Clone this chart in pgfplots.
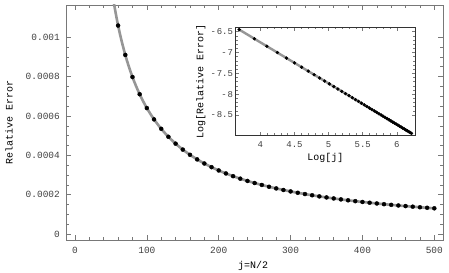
\documentclass[border=0pt]{standalone}
\usepackage{pgfplots}
\usepackage{pgfplotstable}
\pgfplotsset{compat=1.18}
\usepackage{fontspec}
\setmainfont{Liberation Mono}
\definecolor{framegray}{RGB}{120,120,120}
\definecolor{curvegray}{RGB}{150,150,150}
\pgfplotstableread{
j err logj logerr
40 0.0015805 3.68888 -6.45000
50 0.0012684 3.91202 -6.67001
60 0.0010596 4.09434 -6.84978
70 0.00091026 4.24850 -7.00178
80 0.00079797 4.38203 -7.13344
90 0.00071049 4.49981 -7.24957
100 0.00064040 4.60517 -7.35346
110 0.00058293 4.70048 -7.44743
120 0.00053501 4.78749 -7.53323
130 0.00049441 4.86753 -7.61214
140 0.00045957 4.94164 -7.68522
150 0.00042935 5.01064 -7.75325
160 0.00040286 5.07517 -7.81688
170 0.00037949 5.13580 -7.87666
180 0.00035870 5.19296 -7.93302
190 0.00034008 5.24702 -7.98632
200 0.00032331 5.29832 -8.03690
210 0.00030812 5.34711 -8.08501
220 0.00029431 5.39363 -8.13088
230 0.00028169 5.43808 -8.17471
240 0.00027011 5.48064 -8.21667
250 0.00025946 5.52146 -8.25692
260 0.00024961 5.56068 -8.29559
270 0.00024049 5.59842 -8.33280
280 0.00023203 5.63479 -8.36866
290 0.00022413 5.66988 -8.40326
300 0.00021677 5.70378 -8.43669
310 0.00020987 5.73657 -8.46902
320 0.00020341 5.76832 -8.50032
330 0.00019733 5.79909 -8.53066
340 0.00019160 5.82895 -8.56010
350 0.00018620 5.85793 -8.58868
360 0.00018110 5.88610 -8.61645
370 0.00017628 5.91350 -8.64347
380 0.00017170 5.94017 -8.66977
390 0.00016736 5.96615 -8.69538
400 0.00016323 5.99146 -8.72034
410 0.00015931 6.01616 -8.74469
420 0.00015557 6.04025 -8.76845
430 0.00015200 6.06379 -8.79166
440 0.00014859 6.08677 -8.81432
450 0.00014534 6.10925 -8.83648
460 0.00014222 6.13123 -8.85815
470 0.00013924 6.15273 -8.87935
480 0.00013637 6.17379 -8.90012
490 0.00013363 6.19441 -8.92045
500 0.00013099 6.21461 -8.94037
}\datatable
\begin{document}
\begin{tikzpicture}
\useasboundingbox (0,0) rectangle (449bp,273bp);
\begin{axis}[
  scale only axis,
  width=377.3bp, height=235bp,
  at={(66bp,33bp)}, anchor=south west,
  xmin=-12.5, xmax=512.5,
  ymin=-0.00003, ymax=0.001164,
  xtick={0,100,200,300,400,500},
  xticklabels={0,100,200,300,400,500},
  ytick={0,0.0002,0.0004,0.0006,0.0008,0.001},
  yticklabels={0,0.0002,0.0004,0.0006,0.0008,0.001},
  minor x tick num=4,
  minor y tick num=3,
  scaled y ticks=false,
  tick align=inside,
  major tick length=5bp,
  minor tick length=3bp,
  axis line style={framegray, line width=0.8bp},
  every tick/.style={framegray, line width=0.6bp},
  tick label style={font=\fontsize{9.5}{11}\selectfont, text=black!75},
  yticklabel style={anchor=east, inner sep=0pt, xshift=-6bp},
  xticklabel style={anchor=north, inner sep=0pt, yshift=-6.5bp},
  xlabel={j=N/2},
  ylabel={Relative Error},
  label style={font=\fontsize{11}{12}\selectfont, text=black!80},
  every axis x label/.style={at={(axis description cs:0.496,-0.111)}, anchor=center},
  every axis y label/.style={at={(axis description cs:-0.151,0.5)}, anchor=center, rotate=90},
]
\addplot[curvegray, line width=2.6bp, no markers, smooth] table[x=j, y=err] {\datatable};
\addplot[only marks, mark=*, mark size=2bp, mark options={fill=black, draw=black}] table[x=j, y=err] {\datatable};
\end{axis}
\begin{axis}[
  scale only axis,
  width=179.3bp, height=107.9bp,
  at={(235.7bp,137.6bp)}, anchor=south west,
  axis background/.style={fill=white},
  xmin=3.638, xmax=6.266,
  ymin=-8.99, ymax=-6.40,
  xtick={4,4.5,5,5.5,6},
  xticklabels={4,4.5,5,5.5,6},
  ytick={-8.5,-8,-7.5,-7,-6.5},
  yticklabels={-{\kern0.1em}8.5,-{\kern0.1em}8,-{\kern0.1em}7.5,-{\kern0.1em}7,-{\kern0.1em}6.5},
  minor x tick num=4,
  minor y tick num=4,
  tick align=inside,
  major tick length=3.5bp,
  minor tick length=2bp,
  axis line style={black!80, line width=0.8bp},
  every tick/.style={framegray, line width=0.5bp},
  tick label style={font=\fontsize{9}{10}\selectfont, text=black!75},
  yticklabel style={anchor=east, inner sep=0pt, xshift=-2.5bp},
  xticklabel style={anchor=north, inner sep=0pt, yshift=-6bp},
  xlabel={Log[j]},
  ylabel={Log[Relative Error]},
  label style={font=\fontsize{9.5}{11}\selectfont, text=black!80},
  every axis x label/.style={at={(axis description cs:0.5,-0.21)}, anchor=center},
  every axis y label/.style={at={(axis description cs:-0.195,0.5)}, anchor=center, rotate=90},
]
\addplot[curvegray, line width=2.4bp, no markers] table[x=logj, y=logerr] {\datatable};
\addplot[only marks, mark=*, mark size=1.5bp, mark options={fill=black, draw=black}] table[x=logj, y=logerr] {\datatable};
\end{axis}
\end{tikzpicture}
\end{document}
